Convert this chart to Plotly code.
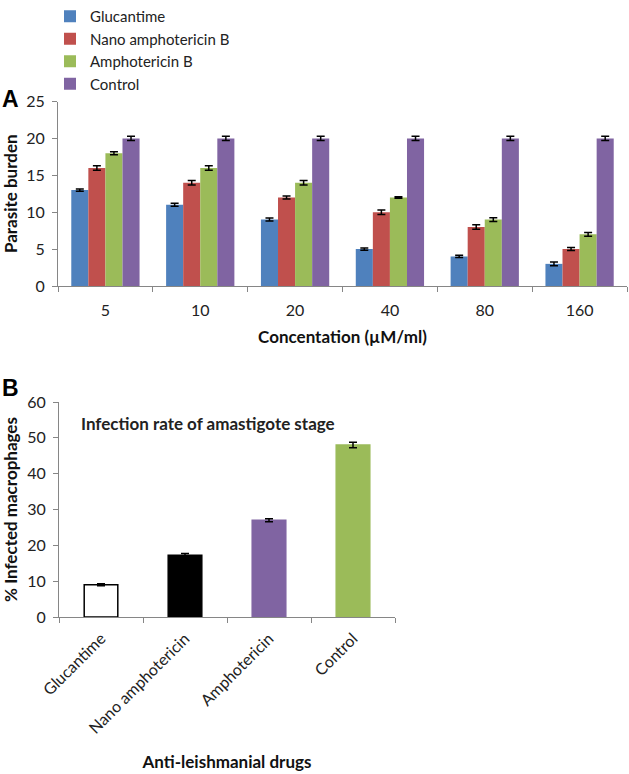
import plotly.graph_objects as go

# panel A data
concentrations = ["5", "10", "20", "40", "80", "160"]
series_names = ["Glucantime", "Nano amphotericin B", "Amphotericin B", "Control"]
glucantime = [13, 11, 9, 5, 4, 3]
nano_ampho = [16, 14, 12, 10, 8, 5]
ampho = [18, 16, 14, 12, 9, 7]
control = [20, 20, 20, 20, 20, 20]
glucantime_err = [0.15, 0.2, 0.2, 0.15, 0.15, 0.25]
nano_ampho_err = [0.3, 0.3, 0.2, 0.3, 0.3, 0.2]
ampho_err = [0.2, 0.3, 0.3, 0.1, 0.25, 0.25]
control_err = [0.3, 0.3, 0.3, 0.3, 0.3, 0.3]

# panel B data
drugs = ["Glucantime", "Nano amphotericin", "Amphotericin", "Control"]
infected = [9, 17.2, 27, 48]
infected_err = [0.3, 0.5, 0.4, 0.8]

colors_a = ["#4F81BD", "#C0504D", "#9BBB59", "#8064A2"]
colors_b = ["#FFFFFF", "#000000", "#8064A2", "#9BBB59"]
outline_b = ["#000000", "#000000", "#8064A2", "#9BBB59"]

FONT = "Lato"
W, H = 629, 774

def px_x(x):
    return x / W

def px_y(y):
    return 1 - y / H

fig = go.Figure()

for name, vals, errs, col in zip(series_names,
                                 [glucantime, nano_ampho, ampho, control],
                                 [glucantime_err, nano_ampho_err, ampho_err, control_err],
                                 colors_a):
    fig.add_trace(go.Bar(
        x=concentrations, y=vals, name=name,
        marker=dict(color=col, line=dict(width=0)),
        error_y=dict(type="data", array=errs, color="black", thickness=1.5, width=4),
        xaxis="x", yaxis="y",
    ))

fig.add_trace(go.Bar(
    x=drugs, y=infected, showlegend=False,
    marker=dict(color=colors_b, line=dict(color=outline_b, width=1.5)),
    error_y=dict(type="data", array=infected_err, color="black", thickness=1.5, width=4),
    width=0.4,
    xaxis="x2", yaxis="y2",
))

axis_common = dict(
    showline=True, linecolor="#868686", linewidth=1,
    ticks="outside", tickcolor="#868686", ticklen=5,
    showgrid=False, zeroline=False, automargin=False,
    tickfont=dict(family=FONT, size=16, color="#222"),
)
title_font = dict(family=FONT, size=17, color="#111")

fig.update_layout(
    width=W, height=H,
    margin=dict(l=0, r=0, t=0, b=0),
    paper_bgcolor="white", plot_bgcolor="white",
    font=dict(family=FONT, color="#222"),
    barmode="group", bargap=0.28, bargroupgap=0,
    showlegend=True,
    legend=dict(x=px_x(50), y=1, xanchor="left", yanchor="top",
                font=dict(family=FONT, size=15, color="#222"),
                tracegroupgap=0, itemwidth=30, bgcolor="rgba(0,0,0,0)"),
    xaxis=dict(domain=[px_x(58), px_x(627)], anchor="y", tickson="boundaries",
               ticklabelstandoff=10,
               title=dict(text="<b>Concentation (µM/ml)</b>", font=title_font, standoff=12),
               **axis_common),
    yaxis=dict(domain=[px_y(286), px_y(101.5)], anchor="x", range=[0, 25], dtick=5,
               ticklabelstandoff=4,
               title=dict(text="<b>Parasite burden</b>", font=title_font, standoff=12),
               **axis_common),
    xaxis2=dict(domain=[px_x(59), px_x(395)], anchor="y2", tickson="boundaries", tickangle=-45,
                ticklabelstandoff=5,
                title=dict(text="<b>Anti-leishmanial drugs</b>", font=title_font, standoff=20),
                **axis_common),
    yaxis2=dict(domain=[px_y(617), px_y(402)], anchor="x2", range=[0, 60], dtick=10,
                ticklabelstandoff=4,
                title=dict(text="<b>% Infected macrophages</b>", font=title_font, standoff=12),
                **axis_common),
    annotations=[
        dict(text="<b>A</b>", x=0, y=px_y(99), xref="paper", yref="paper",
             xanchor="left", yanchor="middle", showarrow=False,
             font=dict(family="Liberation Sans", size=23, color="black")),
        dict(text="<b>B</b>", x=0, y=px_y(388), xref="paper", yref="paper",
             xanchor="left", yanchor="middle", showarrow=False,
             font=dict(family="Liberation Sans", size=23, color="black")),
        dict(text="<b>Infection rate of amastigote stage</b>", x=px_x(79), y=px_y(423),
             xref="paper", yref="paper", xanchor="left", yanchor="middle", showarrow=False,
             font=dict(family=FONT, size=17, color="#222")),
    ],
)

# drop the browser's default 8px body margin so the figure fills the window
fig.write_html("out.html", config={"displayModeBar": False},
               post_script="document.body.style.margin = '0';")
